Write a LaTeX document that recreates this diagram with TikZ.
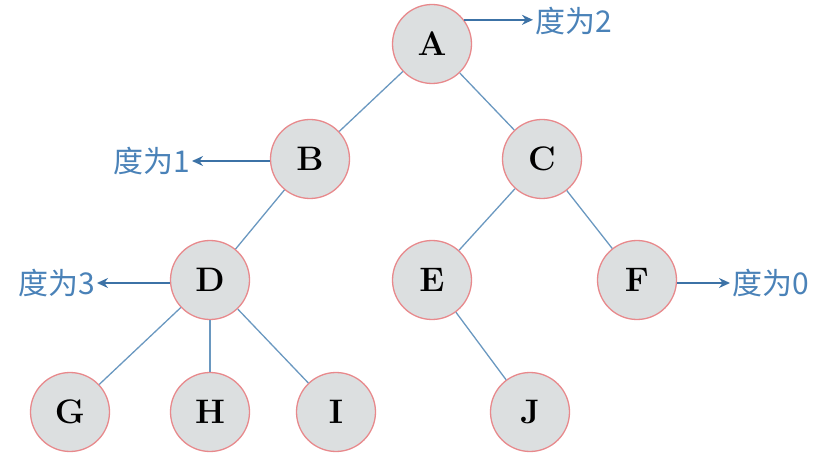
\documentclass[tikz,border=0pt]{standalone}
\usepackage{fontspec}
\newfontfamily\cjk{Noto Sans CJK SC}
\usepackage{tikz}
\usetikzlibrary{calc,arrows.meta}
\definecolor{nodefill}{HTML}{DCDFE0}
\definecolor{noderim}{HTML}{E8898C}
\definecolor{edgeblue}{HTML}{6A98C0}
\definecolor{labelblue}{HTML}{4A82B8}
\definecolor{arrowblue}{HTML}{3C72A6}
\begin{document}
\begin{tikzpicture}[x=1pt,y=-1pt]
    \tikzstyle{vertex} = [
      circle,
      draw=noderim,
      fill=nodefill,
      line width=1.3pt,
      minimum size=79pt,
      inner sep=0pt,
      font=\fontsize{34}{36}\selectfont\bfseries,
    ]
    \tikzstyle{edge} = [
      draw=edgeblue,
      line width=1.3pt,
    ]
    \tikzstyle{arrow} = [
      line width=1.6pt,
      ->,
      >={Stealth[length=11pt,width=10pt]},
      draw=arrowblue,
    ]
    \tikzstyle{degree} = [
      text=labelblue,
      inner sep=2pt,
      font=\cjk\fontsize{30}{32}\selectfont,
    ]

    \useasboundingbox (0,0) rectangle (822,462);

    % the tree
    \node[vertex] (A) at (432,44) {A};
    \node[vertex] (B) at (310,159) {B};
    \node[vertex] (C) at (542,159) {C};
    \node[vertex] (D) at (210,280) {D};
    \node[vertex] (E) at (432,280) {E};
    \node[vertex] (F) at (637,280) {F};
    \node[vertex] (G) at (70,412) {G};
    \node[vertex] (H) at (210,412) {H};
    \node[vertex] (I) at (336,412) {I};
    \node[vertex] (J) at (530,412) {J};

    \draw[edge] (A)--(B);
    \draw[edge] (A)--(C);
    \draw[edge] (B)--(D);
    \draw[edge] (C)--(E);
    \draw[edge] (C)--(F);
    \draw[edge] (D)--(G);
    \draw[edge] (D)--(H);
    \draw[edge] (D)--(I);
    \draw[edge] (E)--(J);

    % degree labels
    \node[degree,anchor=west] (degA) at (533,21) {度为2};
    \node[degree,anchor=east] (degB) at (192,161) {度为1};
    \node[degree,anchor=east] (degD) at (97,283) {度为3};
    \node[degree,anchor=west] (degF) at (730,283) {度为0};

    \coordinate (outA) at (A.37);
    \coordinate (outB) at ($(B.west)+(0,2)$);
    \coordinate (outD) at ($(D.west)+(0,3)$);
    \coordinate (outF) at ($(F.east)+(0,3)$);

    \draw[arrow] (outA)--(outA-|degA.west);
    \draw[arrow] (outB)--(outB-|degB.east);
    \draw[arrow] (outD)--(outD-|degD.east);
    \draw[arrow] (outF)--(outF-|degF.west);
  \end{tikzpicture}
\end{document}
